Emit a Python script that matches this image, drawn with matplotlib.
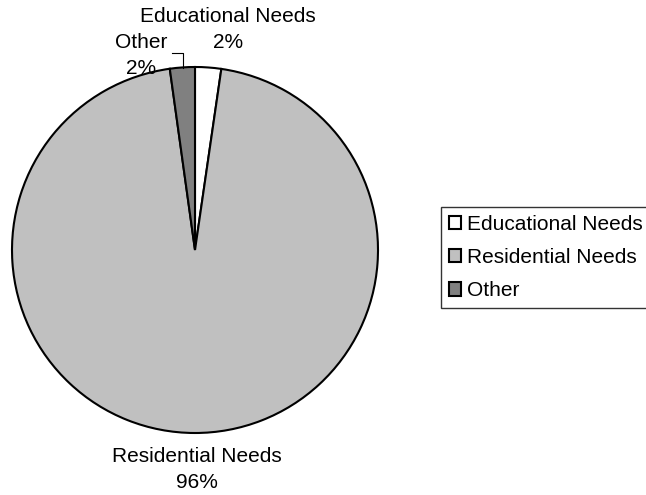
import matplotlib
matplotlib.use("Agg")
import matplotlib.pyplot as plt
from matplotlib.patches import Patch

# slice data
labels = ["Educational Needs", "Residential Needs", "Other"]
values = [2.3, 95.5, 2.2]
colors = ["#FFFFFF", "#C0C0C0", "#808080"]

plt.rcParams['font.family'] = ['Liberation Sans', 'DejaVu Sans']

W, H = 646, 495
fig = plt.figure(figsize=(W / 100, H / 100), dpi=100)

# pie centred at (195, 250) px, radius 183 px
cx, cy, r = 195, 250, 183
ax = fig.add_axes([(cx - r) / W, (H - cy - r) / H, 2 * r / W, 2 * r / H])
wedges, _ = ax.pie(values, colors=colors, startangle=90, counterclock=False,
                   wedgeprops=dict(edgecolor="black", linewidth=1.5))
ax.set_xlim(-1, 1)
ax.set_ylim(-1, 1)
ax.set_aspect("equal")
ax.axis("off")

total = sum(values)
pcts = ["%d%%" % round(v / total * 100) for v in values]

def px(x, y):
    # pixel position -> axes data coords
    return (x - cx) / r, (cy - y) / r

fs = 15

# each label is name on one line, percent below it
def slice_label(name, pct, x, y_top, gap=26):
    ax.text(*px(x, y_top), name, ha="center", va="center",
            fontsize=fs, clip_on=False)
    ax.text(*px(x, y_top + gap), pct, ha="center", va="center",
            fontsize=fs, clip_on=False)

slice_label(labels[0], pcts[0], 228, 17)
slice_label(labels[1], pcts[1], 197, 456)
slice_label(labels[2], pcts[2], 141, 42)

# leader line for "Other"
lx = [px(172, 53)[0], px(183, 53)[0], px(183, 68)[0]]
ly = [px(172, 53)[1], px(183, 53)[1], px(183, 68)[1]]
ax.plot(lx, ly, color="black", linewidth=0.8, clip_on=False)

handles = [Patch(facecolor=c, edgecolor="black", linewidth=1.5) for c in colors]
leg = fig.legend(handles, labels, loc="upper left",
                 bbox_to_anchor=(441 / W, 1 - 207 / H),
                 fontsize=fs, frameon=True, fancybox=False,
                 handlelength=0.6, handleheight=0.6, handletextpad=0.3,
                 labelspacing=0.69, borderpad=0.37, borderaxespad=0)
leg.get_frame().set_edgecolor("black")
leg.get_frame().set_linewidth(1.0)

fig.savefig("out.png", dpi=100)
